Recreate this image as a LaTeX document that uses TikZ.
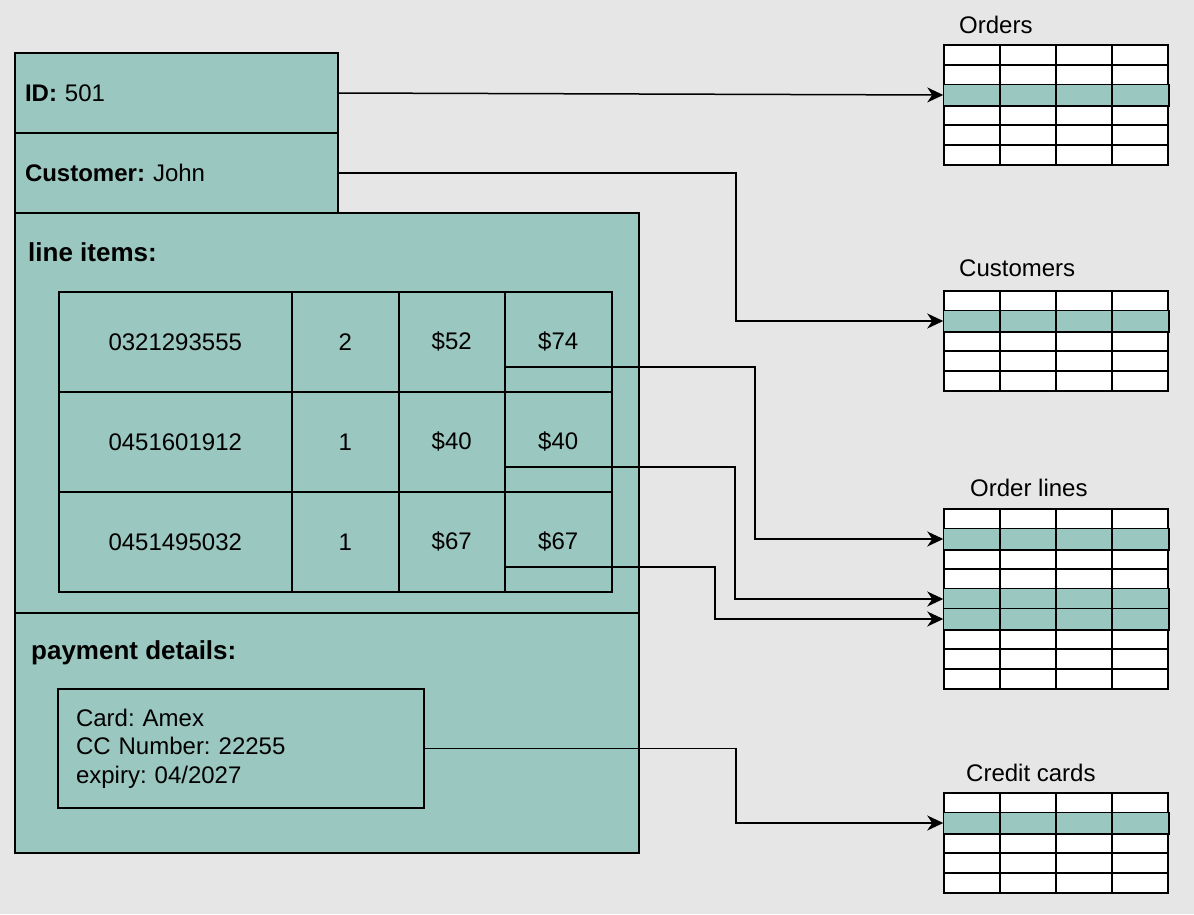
\documentclass[tikz,border=0pt]{standalone}
\usepackage{fontspec}
\setmainfont{Liberation Sans}
\usetikzlibrary{arrows.meta}
\frenchspacing
\definecolor{bgray}{RGB}{230,230,230}
\definecolor{sage}{RGB}{154,199,191}

% Database table: name, top y, number of rows, highlighted rows
\newcommand\dbtable[4]{%
  \foreach \r in {1,...,#3}
    \node[tblrow] (#1-\r) at (1056,{#2+20*\r-10}) {};
  \foreach \h in {#4}
    \path[draw=black, line width=1.5pt, fill=sage] (#1-\h.north west) rectangle (#1-\h.south east);
  \foreach \c in {1000,1056,1112}
    \draw[line width=1.5pt] (\c,#2) -- (\c,{#2+20*#3});
}

\begin{document}
\begin{tikzpicture}[x=1pt,y=-1pt,
  every node/.style={font=\fontsize{24}{28.5}\selectfont, text=black},
  fieldbox/.style={draw=black, line width=1.8pt, fill=sage, minimum height=80pt,
    inner xsep=10pt, inner ysep=0pt, align=left},
  sectionbox/.style={draw=black, line width=1.8pt, fill=sage, inner sep=0pt},
  itemcell/.style={draw=black, line width=1.5pt, fill=sage, minimum height=100pt,
    inner sep=0pt, anchor=north west},
  headtxt/.style={anchor=west, inner sep=0pt},
  sectiontxt/.style={anchor=west, inner sep=0pt, font=\fontsize{26}{30}\selectfont\bfseries},
  tblrow/.style={draw=black, line width=1.5pt, fill=white, minimum width=224pt,
    minimum height=20pt, inner sep=0pt},
  connector/.style={draw=black, line width=1.5pt,
    -{Stealth[length=16pt,width=15pt,inset=5pt]}},
]
% canvas
\path[fill=bgray] (0,0) rectangle (1194,914);

% order document
\node[sectionbox, minimum width=624pt, minimum height=400pt] (lineitems) at (327,413) {};
\node[sectionbox, minimum width=624pt, minimum height=240pt] (payment) at (327,733) {};
\node[fieldbox, text width=303pt] (id) at (176.5,93) {\textbf{ID:} 501};
\node[fieldbox, text width=303pt] (customer) at (176.5,173) {\textbf{Customer:} John};
\node[sectiontxt] (lineitems-title) at (28,252) {line items:};
\node[sectiontxt] (payment-title) at (31,653) {payment details:};

% line items
\foreach \r/\isbn/\qty/\price/\total in {1/0321293555/2/\$52/\$74,
    2/0451601912/1/\$40/\$40, 3/0451495032/1/\$67/\$67} {
  \node[itemcell, minimum width=233pt] (li-\r-1) at (58,{191+100*\r}) {\isbn};
  \node[itemcell, minimum width=107pt] (li-\r-2) at (291,{191+100*\r}) {\qty};
  \node[itemcell, minimum width=106pt] (li-\r-3) at (398,{191+100*\r}) {\price};
  \node[itemcell, minimum width=107pt] (li-\r-4) at (504,{191+100*\r}) {\total};
}

% payment card
\node[draw=black, line width=1.8pt, fill=sage, minimum width=366pt, minimum height=119pt,
  text width=330pt, inner xsep=18pt, inner ysep=0pt, align=left] (card) at (241,748.5)
  {Card: Amex\\CC Number: 22255\\expiry: 04/2027};

% database tables
\node[headtxt] (orders-title) at (959,25) {Orders};
\dbtable{orders}{45}{6}{3}
\node[headtxt] (customers-title) at (959,268) {Customers};
\dbtable{customers}{291}{5}{2}
\node[headtxt] (orderlines-title) at (970,488) {Order lines};
\dbtable{orderlines}{509}{9}{2,5,6}
\node[headtxt] (cards-title) at (966,773) {Credit cards};
\dbtable{cards}{793}{5}{2}

% references
\draw[connector] (id.east) -- (orders-3.west);
\draw[connector] (customer.east) -- ++(397,0) |- (customers-2.west);
\draw[connector] ([yshift=-25pt]li-1-4.west) -- ++(251,0) |- (orderlines-2.west);
\draw[connector] ([yshift=-25pt]li-2-4.west) -- ++(231,0) |- (orderlines-5.west);
\draw[connector] ([yshift=-25pt]li-3-4.west) -- ++(211,0) |- (orderlines-6.west);
\draw[connector] (card.east) -- ++(311,0) |- (cards-2.west);
\end{tikzpicture}
\end{document}
